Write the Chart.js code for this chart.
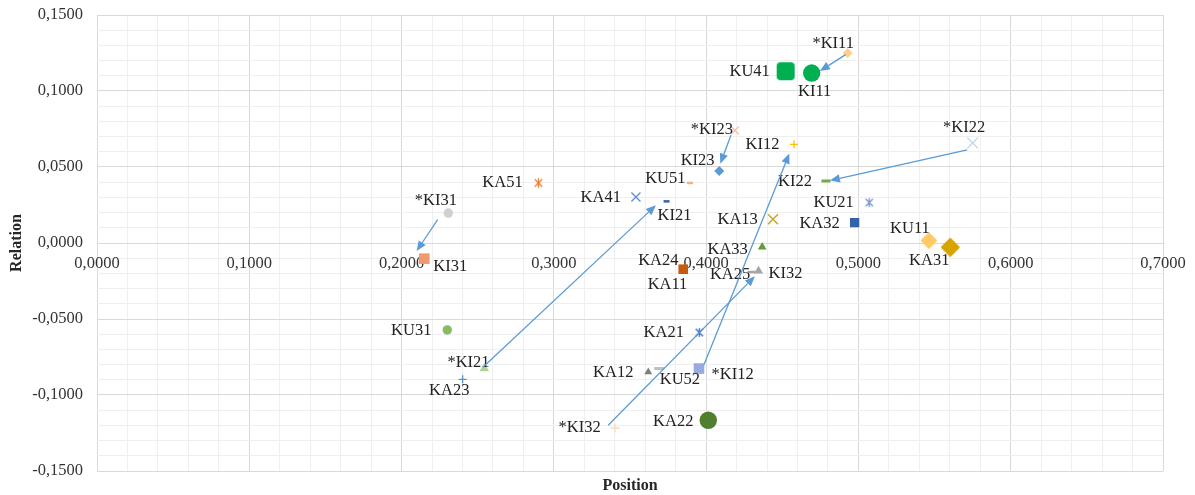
<!DOCTYPE html>
<html>
<head>
<meta charset="utf-8">
<script src="https://cdn.jsdelivr.net/npm/chart.js@4/dist/chart.umd.min.js"></script>
<style>
  html, body { margin: 0; padding: 0; background: #fff; overflow: hidden; }
  #wrap { width: 1195px; height: 495px; position: relative; }
</style>
</head>
<body>
<div id="wrap"><canvas id="chart"></canvas></div>
<script>
// ---- data ----
const pointNames = ['KU41','KI11','*KI11','*KI23','KI23','KI12','*KI22','KI22','KU21','KA32','KA13',
  'KU11','KA31','KA51','KA41','KU51','KI21','*KI31','KI31','KA24','KA11','KA33','KI32','KA25',
  'KU31','*KI21','KA23','KA21','KA12','KU52','*KI12','KA22','*KI32'];

const positionValues = [0.4522, 0.4693, 0.4929, 0.4189, 0.4086, 0.4577, 0.5750, 0.4787, 0.5071, 0.4975, 0.4439,
  0.5463, 0.5603, 0.2899, 0.3539, 0.3894, 0.3740, 0.2307, 0.2149, 0.3850, 0.3850, 0.4368, 0.4344, 0.4298,
  0.2300, 0.2543, 0.2401, 0.3955, 0.3620, 0.3692, 0.3953, 0.4014, 0.3401];

const relationValues = [0.1130, 0.1118, 0.1250, 0.0741, 0.0474, 0.0649, 0.0658, 0.0408, 0.0266, 0.0134, 0.0156,
  0.0016, -0.0028, 0.0395, 0.0303, 0.0395, 0.0274, 0.0197, -0.0103, -0.0173, -0.0173, -0.0026, -0.0184, -0.0191,
  -0.0572, -0.0826, -0.0897, -0.0589, -0.0849, -0.0826, -0.0826, -0.1166, -0.1217];

// shift arrows: start and end in (Position, Relation) values
const arrowFromX = [0.4916, 0.4163, 0.5714, 0.2237, 0.2534, 0.3357, 0.3986];
const arrowFromY = [0.1239, 0.0709, 0.0612, 0.0154, -0.0818, -0.1199, -0.0800];
const arrowToX   = [0.4747, 0.4093, 0.4813, 0.2099, 0.3670, 0.4320, 0.4546];
const arrowToY   = [0.1132, 0.0522, 0.0411, -0.0053, 0.0248, -0.0219, 0.0588];

const xTickValues = [0, 0.1, 0.2, 0.3, 0.4, 0.5, 0.6, 0.7];
const yTickValues = [-0.15, -0.1, -0.05, 0, 0.05, 0.1, 0.15];

// ---- marker styles (shape, colour, radius, line width) ----
const markerShape = ['roundSquare','circle','rectRot','crossRot','rectRot','cross','crossRot','line','star','rect','crossRot',
  'diamond','diamond','star','crossRot','line','line','circle','rect','rect','rect','triangle','triangle','line',
  'circle','triangle','cross','star','triangle','line','rect','circle','cross'];
const markerColor = ['#00b050','#00b050','#fdd08c','#f6b9a6','#5b9bd5','#ffc000','#c2d6ef','#70ad47','#7a95d6','#3560ac','#c9a227',
  '#ffca66','#d6a400','#ed7d31','#5b8fd6','#f4b183','#3b5fb0','#d0d0d0','#f29a6e','#c55a11','#c55a11','#5f9e3a','#a5a5a5','#a5a5a5',
  '#86bc63','#b0d498','#5b8fd0','#4472c4','#7f7f7f','#bfbfbf','#9aa9de','#507f2f','#fbd9bc'];
const markerSize = [9, 8.7, 5, 5.7, 5, 4, 7.5, 4.5, 4.6, 6.6, 7,
  8, 9.3, 4.7, 6.4, 3, 3, 4.7, 7.5, 6.6, 6.6, 5, 5.2, 4,
  4.7, 5.6, 4, 4.6, 4.6, 5, 7.5, 8.7, 4.5];
const markerLine = [0, 0, 0, 1.3, 0, 1.3, 1.3, 3, 1.3, 0, 1.4,
  0, 0, 1.3, 1.3, 2.5, 2.5, 0, 0, 0, 0, 0, 0, 2.5,
  0, 0, 1.3, 1.3, 0, 3, 0, 0, 1.3];

// label placement: offset of the text centre from the marker, in px
const labelOffset = [[-36,0],[3,18.5],[-14.4,-9.5],[-23,-1],[-21.6,-10.7],[-31.5,0.5],[-8.5,-15],[-31,1],[-35.6,0],[-35,0.7],[-35.3,0],
  [-19,-11.5],[-21,13.5],[-36,0],[-35.2,0.8],[-24.7,-4.7],[8,14.8],[-12.5,-12],[26,8],[-25,-8.5],[-15.8,15.2],[-34.5,2.3],[27,2.6],[-21.4,3],
  [-36,1],[-15.8,-5.8],[-13.4,11.8],[-35.5,0],[-35,0.8],[20.7,11],[33.7,6],[-35,1],[-35.3,0]];

const SERIF = '"Liberation Serif", "Times New Roman", serif';
const fmt = v => {
  const r = Math.round(v * 10000) / 10000;
  return (r === 0 ? 0 : r).toFixed(4).replace('.', ',');
};

function markerCanvas(s) {
  const c = document.createElement('canvas');
  c.width = s; c.height = s;
  return c;
}
// asterisk marker: X with a vertical stroke
function starMarker(color, r, lw) {
  const s = Math.ceil(2 * r + lw + 4);
  const c = markerCanvas(s);
  const g = c.getContext('2d');
  const m = s / 2;
  g.strokeStyle = color; g.lineWidth = lw;
  g.beginPath();
  g.moveTo(m - r * 0.8, m - r * 0.8); g.lineTo(m + r * 0.8, m + r * 0.8);
  g.moveTo(m + r * 0.8, m - r * 0.8); g.lineTo(m - r * 0.8, m + r * 0.8);
  g.moveTo(m, m - r); g.lineTo(m, m + r);
  g.stroke();
  return c;
}
// diamond with rounded corners
function diamondMarker(color, h) {
  const s = Math.ceil(2 * h + 4);
  const c = markerCanvas(s);
  const g = c.getContext('2d');
  const m = s / 2, d = h - 1.5;
  g.fillStyle = color; g.strokeStyle = color; g.lineWidth = 3; g.lineJoin = 'round';
  g.beginPath();
  g.moveTo(m, m - d); g.lineTo(m + d, m); g.lineTo(m, m + d); g.lineTo(m - d, m); g.closePath();
  g.fill(); g.stroke();
  return c;
}
// square with softly rounded corners
function roundSquareMarker(color, h) {
  const s = Math.ceil(2 * h + 2);
  const c = markerCanvas(s);
  const g = c.getContext('2d');
  const m = s / 2;
  g.fillStyle = color;
  g.beginPath();
  g.roundRect(m - h, m - h, 2 * h, 2 * h, h * 0.42);
  g.fill();
  return c;
}

const pointStyles = markerShape.map((sh, i) => {
  if (sh === 'star') return starMarker(markerColor[i], markerSize[i], markerLine[i]);
  if (sh === 'diamond') return diamondMarker(markerColor[i], markerSize[i]);
  if (sh === 'roundSquare') return roundSquareMarker(markerColor[i], markerSize[i]);
  return sh;
});

const scatterData = positionValues.map((x, i) => ({ x: x, y: relationValues[i] }));

const gridColor = (step) => (ctx) => {
  const v = ctx.tick ? ctx.tick.value : 0;
  return Math.abs(Math.round(v * 1000) % step) === 0 ? '#d9d9d9' : '#efefef';
};

const range = (a, b, n) => { const out = []; for (let k = 0; k <= n; k++) out.push(a + (b - a) * k / n); return out; };

// labels and arrows drawn over the markers
const annotate = {
  id: 'annotate',
  afterDatasetsDraw(chart) {
    const ctx = chart.ctx, xs = chart.scales.x, ys = chart.scales.y;
    ctx.save();
    ctx.font = '16.5px ' + SERIF;
    ctx.fillStyle = '#222';
    ctx.textAlign = 'center';
    ctx.textBaseline = 'middle';
    pointNames.forEach((name, i) => {
      const px = xs.getPixelForValue(positionValues[i]);
      const py = ys.getPixelForValue(relationValues[i]);
      ctx.fillText(name, px + labelOffset[i][0], py + labelOffset[i][1]);
    });
    ctx.strokeStyle = '#5b9bd5';
    ctx.fillStyle = '#5b9bd5';
    ctx.lineWidth = 1.3;
    arrowFromX.forEach((fx, i) => {
      const x1 = xs.getPixelForValue(fx), y1 = ys.getPixelForValue(arrowFromY[i]);
      const x2 = xs.getPixelForValue(arrowToX[i]), y2 = ys.getPixelForValue(arrowToY[i]);
      const a = Math.atan2(y2 - y1, x2 - x1);
      const len = 10, half = 4.2;
      const bx = x2 - Math.cos(a) * len, by = y2 - Math.sin(a) * len;
      ctx.beginPath();
      ctx.moveTo(x1, y1); ctx.lineTo(bx, by);
      ctx.stroke();
      ctx.beginPath();
      ctx.moveTo(x2, y2);
      ctx.lineTo(bx + Math.sin(a) * half, by - Math.cos(a) * half);
      ctx.lineTo(bx - Math.sin(a) * half, by + Math.cos(a) * half);
      ctx.closePath();
      ctx.fill();
    });
    ctx.restore();
  }
};

new Chart(document.getElementById('chart'), {
  type: 'scatter',
  data: {
    datasets: [{
      data: scatterData,
      xAxisID: 'x',
      yAxisID: 'y',
      pointStyle: pointStyles,
      pointRadius: markerSize,
      backgroundColor: markerColor,
      borderColor: markerColor,
      borderWidth: markerLine
    }]
  },
  options: {
    responsive: true,
    maintainAspectRatio: false,
    animation: false,
    events: [],
    layout: { padding: { left: 0, right: 32, top: 15, bottom: 0 } },
    plugins: { legend: { display: false }, tooltip: { enabled: false } },
    scales: {
      x: {
        type: 'linear',
        position: 'bottom',
        min: 0, max: 0.7,
        afterBuildTicks: s => { s.ticks = range(0, 0.7, 35).map(v => ({ value: v })); },
        afterFit: s => { s.height = 24; s.paddingLeft = 0; s.paddingRight = 0; },
        ticks: { display: false },
        grid: { color: gridColor(100), lineWidth: 1, drawTicks: false },
        border: { display: false },
        title: {
          display: true, text: 'Position', color: '#262626',
          font: { family: SERIF, size: 16, weight: 'bold' },
          padding: { top: 0.5, bottom: 0 }
        }
      },
      x2: {
        type: 'linear',
        axis: 'x',
        position: { y: 0 },
        min: 0, max: 0.7,
        afterBuildTicks: s => { s.ticks = xTickValues.map(v => ({ value: v })); },
        afterFit: s => { s.paddingLeft = 0; s.paddingRight = 0; },
        grid: { display: false, drawTicks: false },
        border: { display: false },
        ticks: {
          color: '#333', padding: 11, autoSkip: false, maxRotation: 0,
          font: { family: SERIF, size: 16.5 },
          callback: v => fmt(v)
        }
      },
      y: {
        type: 'linear',
        position: 'left',
        min: -0.15, max: 0.15,
        afterBuildTicks: s => { s.ticks = range(-0.15, 0.15, 30).map(v => ({ value: v })); },
        afterFit: s => { s.width = 97; s.paddingTop = 0; s.paddingBottom = 0; },
        grid: { color: gridColor(50), lineWidth: 1, drawTicks: false },
        border: { display: false },
        ticks: {
          color: '#333', padding: 14, autoSkip: false,
          font: { family: SERIF, size: 16.5 },
          callback: v => yTickValues.some(t => Math.abs(t - v) < 1e-9) ? fmt(v) : ''
        },
        title: {
          display: true, text: 'Relation', color: '#262626',
          font: { family: SERIF, size: 16, weight: 'bold' },
          padding: { top: 7, bottom: 0 }
        }
      }
    }
  },
  plugins: [annotate]
});
</script>
</body>
</html>
